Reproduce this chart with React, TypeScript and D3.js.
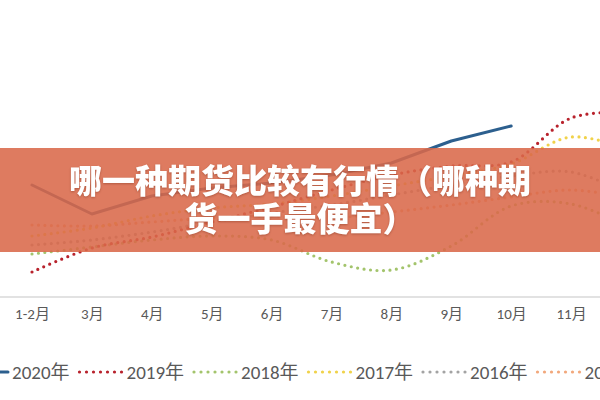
import React, { useEffect, useRef } from "react";
import * as d3 from "d3";

// 月份
const months = ["1-2月", "3月", "4月", "5月", "6月", "7月", "8月", "9月", "10月", "11月", "12月"];

// 各年份数据（指数）
const s2020 = [44.8, 33.2, 40.4, 43.6, 45.6, 48.8, 53.6, 62.4, 68.4];
const s2019 = [10, 19.6, 24, 30, 36, 42.8, 48.8, 52.4, 54, 71.6, 74];
const s2018 = [17.2, 20, 22.8, 24.4, 22.8, 14, 10.8, 20.4, 36.4, 37.2, 27.6];
const s2017 = [24.4, 27.6, 32.4, 35.6, 37.2, 40.4, 44.4, 48.4, 53.2, 64, 58.8];
const s2016 = [20.8, 22.8, 26, 30, 33.6, 36.8, 40.8, 44.8, 48.4, 50, 40.8];
const s2015 = [28.8, 28.4, 30, 31.6, 32.4, 31.6, 34, 36.8, 40, 42.8, 39.6];

const seriesNames = ["2020年", "2019年", "2018年", "2017年", "2016年", "2015年"];
const seriesValues = [s2020, s2019, s2018, s2017, s2016, s2015];
const seriesColors = ["#2c5f8e", "#b8222c", "#a3c46c", "#f0d24a", "#a3a3a3", "#f2a87c"];

const titleLines = ["哪一种期货比较有行情（哪种期", "货一手最便宜）"];

const width = 600;
const height = 400;

const Chart: React.FC = () => {
  const ref = useRef<SVGSVGElement | null>(null);

  useEffect(() => {
    if (!ref.current) return;
    const svg = d3.select(ref.current);
    svg.selectAll("*").remove();

    const x = d3.scalePoint<string>().domain(months).range([32, 631]);
    const y = d3.scaleLinear().domain([0, 100]).range([297, 47]);

    const font = "Calibri, 'Liberation Sans', 'Noto Sans CJK SC', sans-serif";

    // 底线
    svg
      .append("line")
      .attr("x1", 0)
      .attr("x2", width)
      .attr("y1", y(0))
      .attr("y2", y(0))
      .attr("stroke", "#d9d9d9")
      .attr("stroke-width", 1.5);

    // X轴标签（12月在画面外）
    const xAxis = svg
      .append("g")
      .attr("transform", `translate(0,${y(0) + 8})`)
      .call(
        d3
          .axisBottom(x)
          .tickSize(0)
          .tickValues(months.filter((m) => x(m)! < width))
      );
    xAxis.select(".domain").remove();
    xAxis
      .selectAll("text")
      .attr("font-size", 15)
      .attr("font-family", font)
      .attr("fill", "#595959");

    // 折线
    const lineDotted = d3
      .line<number>()
      .x((_, i) => x(months[i])!)
      .y((d) => y(d))
      .curve(d3.curveCatmullRom.alpha(0.5));
    const lineSolid = d3
      .line<number>()
      .x((_, i) => x(months[i])!)
      .y((d) => y(d));

    seriesValues
      .map((vals, i) => ({ vals, i }))
      .reverse()
      .forEach(({ vals, i }) => {
        const p = svg
          .append("path")
          .attr("d", i === 0 ? lineSolid(vals) : lineDotted(vals))
          .attr("fill", "none")
          .attr("stroke", seriesColors[i])
          .attr("stroke-width", i === 0 ? 3 : 3.2)
          .attr("stroke-linecap", "round")
          .attr("stroke-linejoin", "round");
        if (i > 0) p.attr("stroke-dasharray", "0 6.5");
      });

    // 图例
    const legend = svg.append("g").attr("transform", `translate(0,372)`);
    seriesNames.forEach((name, i) => {
      const x0 = -37 + i * 114.5;
      const item = legend.append("g").attr("transform", `translate(${x0},0)`);
      const l = item
        .append("line")
        .attr("x1", i === 0 ? 0 : 2)
        .attr("x2", 45)
        .attr("y1", 0)
        .attr("y2", 0)
        .attr("stroke", seriesColors[i])
        .attr("stroke-width", i === 0 ? 3 : 3.2)
        .attr("stroke-linecap", "round");
      if (i > 0) l.attr("stroke-dasharray", "0 7");
      item
        .append("text")
        .attr("x", 49)
        .attr("y", 0)
        .attr("dy", "0.35em")
        .attr("font-size", 19)
        .attr("font-family", font)
        .attr("fill", "#595959")
        .text(name);
    });

    // 标题横幅
    svg
      .append("rect")
      .attr("x", 0)
      .attr("y", 148)
      .attr("width", width)
      .attr("height", 104)
      .attr("fill", "#d9694a")
      .attr("opacity", 0.88);

    svg
      .append("g")
      .selectAll("text")
      .data(titleLines)
      .join("text")
      .attr("x", width / 2)
      .attr("y", (_, i) => 181 + i * 38)
      .attr("dy", "0.36em")
      .attr("text-anchor", "middle")
      .attr("font-size", 33)
      .attr("font-weight", 900)
      .attr("font-family", "'Noto Sans CJK SC', sans-serif")
      .attr("fill", "#ffffff")
      .style("filter", "drop-shadow(0px 1px 1px rgba(110,40,20,0.4))")
      .text((d) => d);
  }, []);

  return <svg ref={ref} width={width} height={height} style={{ display: "block" }}></svg>;
};

export default function App() {
  return (
    <div style={{ position: "fixed", left: 0, top: 0, width, height, background: "#fff", overflow: "hidden" }}>
      <Chart />
    </div>
  );
}
